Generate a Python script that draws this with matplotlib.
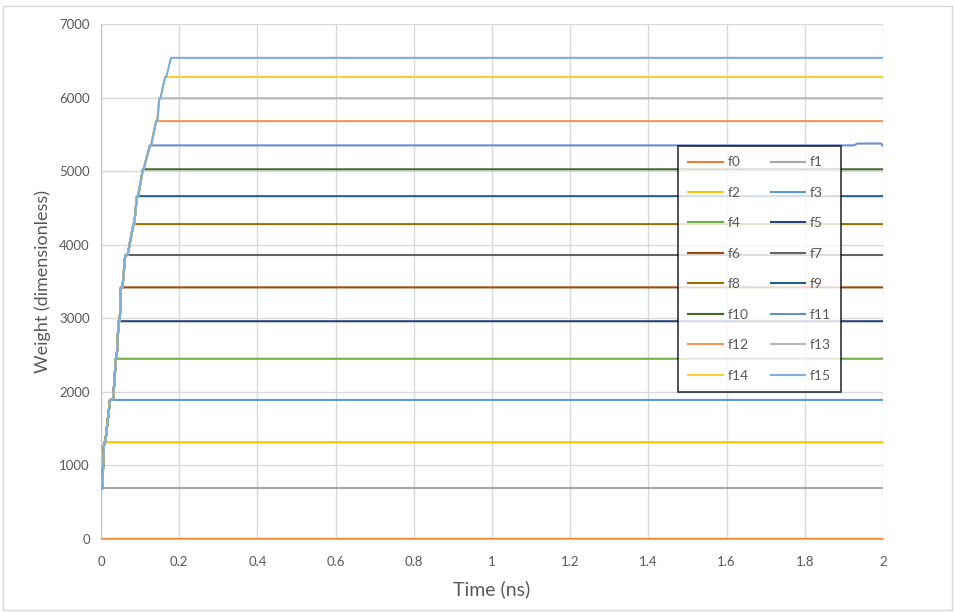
import numpy as np
import matplotlib
matplotlib.use("Agg")
import matplotlib.pyplot as plt

plt.rcParams['font.family'] = ['Lato', 'DejaVu Sans']

# Plateau levels for f1..f15 (f0 stays at zero)
levels = [690, 1315, 1890, 2450, 2960, 3420, 3860, 4280,
          4660, 5025, 5350, 5680, 5990, 6280, 6540]
# time (ns) at which each level is reached, and when the ramp moves on
reach_t = [0.000, 0.008, 0.023, 0.038, 0.045, 0.051, 0.062, 0.083,
           0.092, 0.107, 0.125, 0.141, 0.149, 0.164, 0.179]
leave_t = [0.003, 0.011, 0.031, 0.040, 0.048, 0.055, 0.068, 0.085,
           0.095, 0.109, 0.128, 0.144, 0.152, 0.167, 0.182]
t_end = 2.0

# small late rise on f11
f11_tail_t = [1.925, 1.935, 1.995, 2.0]
f11_tail_v = [5350, 5375, 5375, 5345]

names = [f"f{i}" for i in range(16)]
colors = ['#ED7D31', '#A5A5A5', '#FFC000', '#5B9BD5', '#70AD47', '#264478',
          '#9E480E', '#636363', '#997300', '#255E91', '#43682B', '#698ED0',
          '#F1975A', '#B7B7B7', '#FFCD33', '#7CAFDD']

fig = plt.figure(figsize=(9.55, 6.12), dpi=100)
ax = fig.add_axes([101 / 955, 1 - 539 / 612, 782 / 955, 515 / 612])

series = [([0.0, t_end], [0, 0])]
for i in range(1, 16):
    n = i  # number of plateaus this series climbs through
    ts, vs = [], []
    for k in range(n):
        ts.append(reach_t[k]); vs.append(levels[k])
        if k < n - 1:
            ts.append(leave_t[k]); vs.append(levels[k])
    if i == 11:
        ts += f11_tail_t; vs += f11_tail_v
    else:
        ts.append(t_end); vs.append(levels[n - 1])
    series.append((ts, vs))

lines = []
for i in range(16):
    ts, vs = series[i]
    ln, = ax.plot(ts, vs, color=colors[i], lw=1.5, label=names[i], zorder=3)
    lines.append(ln)

ax.set_xlim(0, 2)
ax.set_ylim(0, 7000)
ax.set_xticks(np.arange(0, 2.01, 0.2))
ax.set_xticklabels(['0', '0.2', '0.4', '0.6', '0.8', '1', '1.2', '1.4', '1.6', '1.8', '2'])
ax.set_yticks(np.arange(0, 7001, 1000))
ax.grid(True, color='#D9D9D9', lw=1.0, zorder=0)
ax.set_axisbelow(True)
ax.tick_params(axis='x', length=0, labelsize=9.5, colors='#595959', pad=12)
ax.tick_params(axis='y', length=0, labelsize=9.5, colors='#595959', pad=8)
for s in ['top', 'right']:
    ax.spines[s].set_visible(False)
for s in ['left', 'bottom']:
    ax.spines[s].set_color('#BFBFBF')
ax.set_xlabel('Time (ns)', fontsize=14, color='#595959', labelpad=9)
ax.set_ylabel('Weight (dimensionless)', fontsize=13, color='#595959', labelpad=6)

# row-major legend: even series in the left column, odd in the right
order = list(range(0, 16, 2)) + list(range(1, 16, 2))
leg = fig.legend([lines[i] for i in order], [names[i] for i in order], ncol=2,
                 loc='upper left', bbox_to_anchor=(671 / 955, 1 - 139 / 612),
                 fontsize=10, labelspacing=1.33, handlelength=2.5,
                 handletextpad=0.3, columnspacing=1.6, borderpad=0.75,
                 frameon=True, fancybox=False)
leg.get_frame().set_edgecolor('black')
leg.get_frame().set_linewidth(1.2)
for t in leg.get_texts():
    t.set_color('#595959')

fig.patches.append(plt.Rectangle((0.003, 0.003), 0.994, 0.988, transform=fig.transFigure,
                                 fill=False, edgecolor='#D9D9D9', lw=1))

fig.savefig('out.png', dpi=100)
